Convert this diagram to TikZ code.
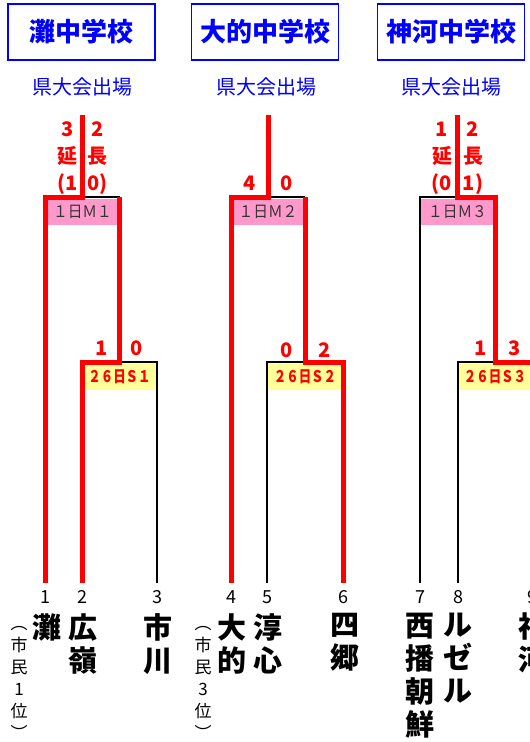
\documentclass[tikz,border=0pt]{standalone}
\usepackage{fontspec}
\setmainfont{Noto Sans CJK JP}
\usetikzlibrary{calc,positioning}
\definecolor{mpink}{RGB}{255,153,204}
\definecolor{syellow}{RGB}{255,255,153}
\tikzset{
  win/.style={red, line width=5pt},
  lose/.style={black, line width=1.5pt},
  school/.style={draw=blue, line width=1.8pt, text=blue, font=\bfseries\fontsize{26}{26}\selectfont, minimum width=147pt, minimum height=56pt, inner sep=0pt},
  quali/.style={text=blue, font=\fontsize{20}{20}\selectfont, inner sep=0pt},
  score/.style={text=red, font=\bfseries\fontsize{20}{27}\selectfont, align=center, inner sep=0pt},
  mbox/.style={fill=mpink, text=black!80, font=\fontsize{16}{16}\selectfont, minimum height=26pt, inner sep=0pt},
  sbox/.style={fill=syellow, text=red, font=\bfseries\fontsize{16}{16}\selectfont, minimum height=26pt, inner sep=0pt},
  num/.style={font=\fontsize{18}{18}\selectfont, inner sep=0pt, anchor=north},
  team/.style={font=\bfseries\fontsize{29}{33}\selectfont, align=center, inner sep=0pt, anchor=north},
  rank/.style={font=\fontsize{17}{22}\selectfont, align=center, inner sep=0pt, anchor=north}
}

\begin{document}
\begin{tikzpicture}[x=1pt,y=-1pt]
\useasboundingbox (0,0) rectangle (530,742);
\clip (0,0) rectangle (530,742);

% schools
\node[school] (sch1) at (81.5,32) {灘中学校};
\node[school] (sch2) at (265,32) {大的中学校};
\node[school] (sch3) at (451,32) {神河中学校};
\node[quali] (q1) at (82.5,87) {県大会出場};
\node[quali] (q2) at (266,87) {県大会出場};
\node[quali] (q3) at (451,87) {県大会出場};

% bracket points
\coordinate (l1) at (45.5,583); \coordinate (l2) at (82,583); \coordinate (l3) at (157,583);
\coordinate (l4) at (231,583); \coordinate (l5) at (267,583); \coordinate (l6) at (343,583);
\coordinate (l7) at (420,583); \coordinate (l8) at (458,583); \coordinate (l9) at (532,583);
\coordinate (s1) at (119.5,362); \coordinate (s2) at (305,362); \coordinate (s3) at (495,362);
\coordinate (m1) at (82.5,197); \coordinate (m2) at (268,197); \coordinate (m3) at (457.5,197);
\coordinate (m1t) at (82.5,115); \coordinate (m2t) at (268,115); \coordinate (m3t) at (457.5,115);

% match boxes
\node[mbox, minimum width=74pt] (mb1) at ($(m1)+(0,15)$) {\scalebox{0.92}[1]{１日Ｍ１}};
\node[mbox, minimum width=74pt] (mb2) at ($(m2)+(0,15)$) {\scalebox{0.92}[1]{１日Ｍ２}};
\node[mbox, minimum width=75pt] (mb3) at ($(m3)+(0,15)$) {\scalebox{0.92}[1]{１日Ｍ３}};
\node[sbox, minimum width=75pt] (sb1) at ($(s1)+(0,15)$) {\scalebox{0.78}[1]{２６日Ｓ１}};
\node[sbox, minimum width=76pt] (sb2) at ($(s2)+(0,15)$) {\scalebox{0.78}[1]{２６日Ｓ２}};
\node[sbox, minimum width=74pt] (sb3) at ($(s3)+(0,15)$) {\scalebox{0.78}[1]{２６日Ｓ３}};

% losers
\draw[lose] (m1) -- (s1 |- m1);
\draw[lose] (s1) -| (l3);
\draw[lose] (m2) -- (s2 |- m2);
\draw[lose] (s2) -| (l5);
\draw[lose] (l7) |- (m3);
\draw[lose] (s3) -| (l8);

% winners
\draw[win] (l1) |- (m1) -- (m1t);
\draw[win] (l2) |- (s1) -- (s1 |- m1);
\draw[win] (l4) |- (m2) -- (m2t);
\draw[win] (l6) |- (s2) -- (s2 |- m2);
\draw[win] (l9) |- (s3) -- (s3 |- m3) -- (m3) -- (m3t);

% scores
\node[score] (sc1a) at (67.5,158) {3\\延\\(1};
\node[score] (sc1b) at (97.5,158) {2\\長\\0)};
\node[score] (sc2a) at (250,183) {4};
\node[score] (sc2b) at (287,183) {0};
\node[score] (sc3a) at (442,158) {1\\延\\(0};
\node[score] (sc3b) at (473,158) {2\\長\\1)};
\node[score] (ss1a) at (102,348) {1};
\node[score] (ss1b) at (137,348) {0};
\node[score] (ss2a) at (287,350) {0};
\node[score] (ss2b) at (325,350) {2};
\node[score] (ss3a) at (481,348) {1};
\node[score] (ss3b) at (515,348) {3};

% seeds
\node[num, below=7pt of l1] (n1) {1};
\node[num, below=7pt of l2] (n2) {2};
\node[num, below=7pt of l3] (n3) {3};
\node[num, below=7pt of l4] (n4) {4};
\node[num, below=7pt of l5] (n5) {5};
\node[num, below=7pt of l6] (n6) {6};
\node[num, below=7pt of l7] (n7) {7};
\node[num, below=7pt of l8] (n8) {8};
\node[num, below=7pt of l9] (n9) {9};

% teams
\node[team] (tm1) at (47,613) {灘};
\node[team] (tm2) at (83,613) {広\\嶺};
\node[team] (tm3) at (157.5,613) {市\\川};
\node[team] (tm4) at (232,613) {大\\的};
\node[team] (tm5) at (268,613) {淳\\心};
\node[team] (tm6) at (345,613) {四\\郷};
\node[team] (tm7) at (420,613) {西\\播\\朝\\鮮};
\node[team] (tm8) at (458,613) {ル\\ゼ\\ル};
\node[team] (tm9) at (533,613) {神\\河};
\node[rank] (rk1) at (19,626) {︵\\市\\民\\1\\位\\︶};
\node[rank] (rk4) at (203,626) {︵\\市\\民\\3\\位\\︶};
\end{tikzpicture}
\end{document}
